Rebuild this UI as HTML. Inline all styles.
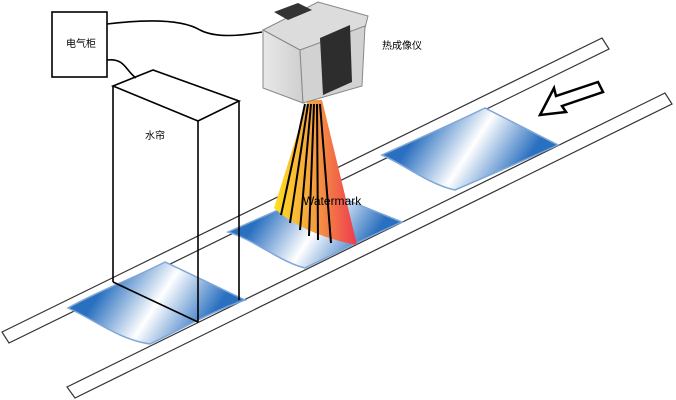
<!DOCTYPE html>
<html><head><meta charset="utf-8"><style>body{margin:0;background:#fff}svg{display:block}</style></head><body>
<svg width="676" height="400" viewBox="0 0 676 400" xmlns="http://www.w3.org/2000/svg">
<defs>
<linearGradient id="p1" gradientUnits="userSpaceOnUse" x1="112" y1="274" x2="202" y2="332">
<stop offset="0" stop-color="#2a70c0"/><stop offset="0.5" stop-color="#ffffff"/><stop offset="1" stop-color="#2a70c0"/></linearGradient>
<linearGradient id="p2" gradientUnits="userSpaceOnUse" x1="270" y1="200" x2="360" y2="258">
<stop offset="0" stop-color="#2a70c0"/><stop offset="0.5" stop-color="#ffffff"/><stop offset="1" stop-color="#2a70c0"/></linearGradient>
<linearGradient id="p3" gradientUnits="userSpaceOnUse" x1="425" y1="121" x2="515" y2="179">
<stop offset="0" stop-color="#2a70c0"/><stop offset="0.5" stop-color="#ffffff"/><stop offset="1" stop-color="#2a70c0"/></linearGradient>
<linearGradient id="cone" x1="0" y1="0" x2="1" y2="0">
<stop offset="0" stop-color="#ffe020"/><stop offset="0.5" stop-color="#f59a40"/><stop offset="1" stop-color="#ee3a50"/></linearGradient>
<linearGradient id="cam" x1="0" y1="0" x2="1" y2="0"><stop offset="0" stop-color="#e8e8e8"/><stop offset="1" stop-color="#cfcfcf"/></linearGradient>
</defs>
<g fill="none" stroke="#333" stroke-width="1.2">
<polygon points="2,332 602,38 609,49 9,343"/>
<polygon points="67,387 665,93 672,104 75,398"/>
</g>
<g stroke="#7fa6d6" stroke-width="1.5">
<path d="M68,308 C100,290 130,280 165,262 L245,300 C210,312 180,330 150,344 C120,340 95,320 68,308 Z" fill="url(#p1)"/>
<path d="M228,232 C260,218 290,205 322,190 L402,222 C370,236 338,252 305,268 C280,262 255,240 228,232 Z" fill="url(#p2)"/>
<path d="M382,155 C415,140 450,125 485,108 L558,145 C525,160 490,175 455,190 C430,185 405,165 382,155 Z" fill="url(#p3)"/>
</g>
<path d="M308,100 L322,100 L357,245 C330,240 295,228 274,208 Z" fill="url(#cone)"/>
<g stroke="#000" stroke-width="2" fill="none">
<line x1="305" y1="104" x2="281" y2="215"/><line x1="308" y1="104" x2="290" y2="223"/>
<line x1="311" y1="104" x2="300" y2="230"/><line x1="314" y1="104" x2="309" y2="236"/>
<line x1="317" y1="104" x2="318" y2="240"/><line x1="320" y1="104" x2="331" y2="243"/>
</g>
<text x="303" y="205" font-family="Liberation Sans, sans-serif" font-size="12" fill="#000">Watermark</text>
<polygon points="263,30 318,2 368,16 365,28 300,50" fill="#dcdcdc" stroke="#888"/>
<polygon points="263,30 300,50 303,103 263,88" fill="url(#cam)" stroke="#888"/>
<polygon points="300,50 365,26 362,86 303,103" fill="#d2d2d2" stroke="#888"/>
<polygon points="274,12 298,3 312,10 288,20" fill="#333"/>
<polygon points="320,38 350,25 352,82 323,95" fill="#2d2d2d"/>
<g fill="none" stroke="#000" stroke-width="1.6">
<rect x="52" y="12" width="55" height="65" fill="#fff"/>
<path d="M107,24 C140,20 180,18 200,30 C215,38 240,36 262,32"/>
<path d="M107,60 C125,58 125,70 136,78"/>
<polygon points="113,86 153,70 239,101 198,121"/>
<line x1="113" y1="86" x2="113" y2="282"/>
<line x1="198" y1="121" x2="198" y2="322"/>
<line x1="239" y1="101" x2="239" y2="300"/>
<line x1="113" y1="282" x2="198" y2="322"/>
</g>
<polygon points="540,115 554,88 556,96 598,82 603,92 562,106 566,112" fill="#fff" stroke="#000" stroke-width="2.5"/>
<g font-family="Liberation Sans, Noto Sans CJK SC, sans-serif" font-size="10" fill="#000">
<text x="66" y="47">电气柜</text>
<text x="145" y="139">水帘</text>
<text x="382" y="49">热成像仪</text>
</g>
</svg>
</body></html>
